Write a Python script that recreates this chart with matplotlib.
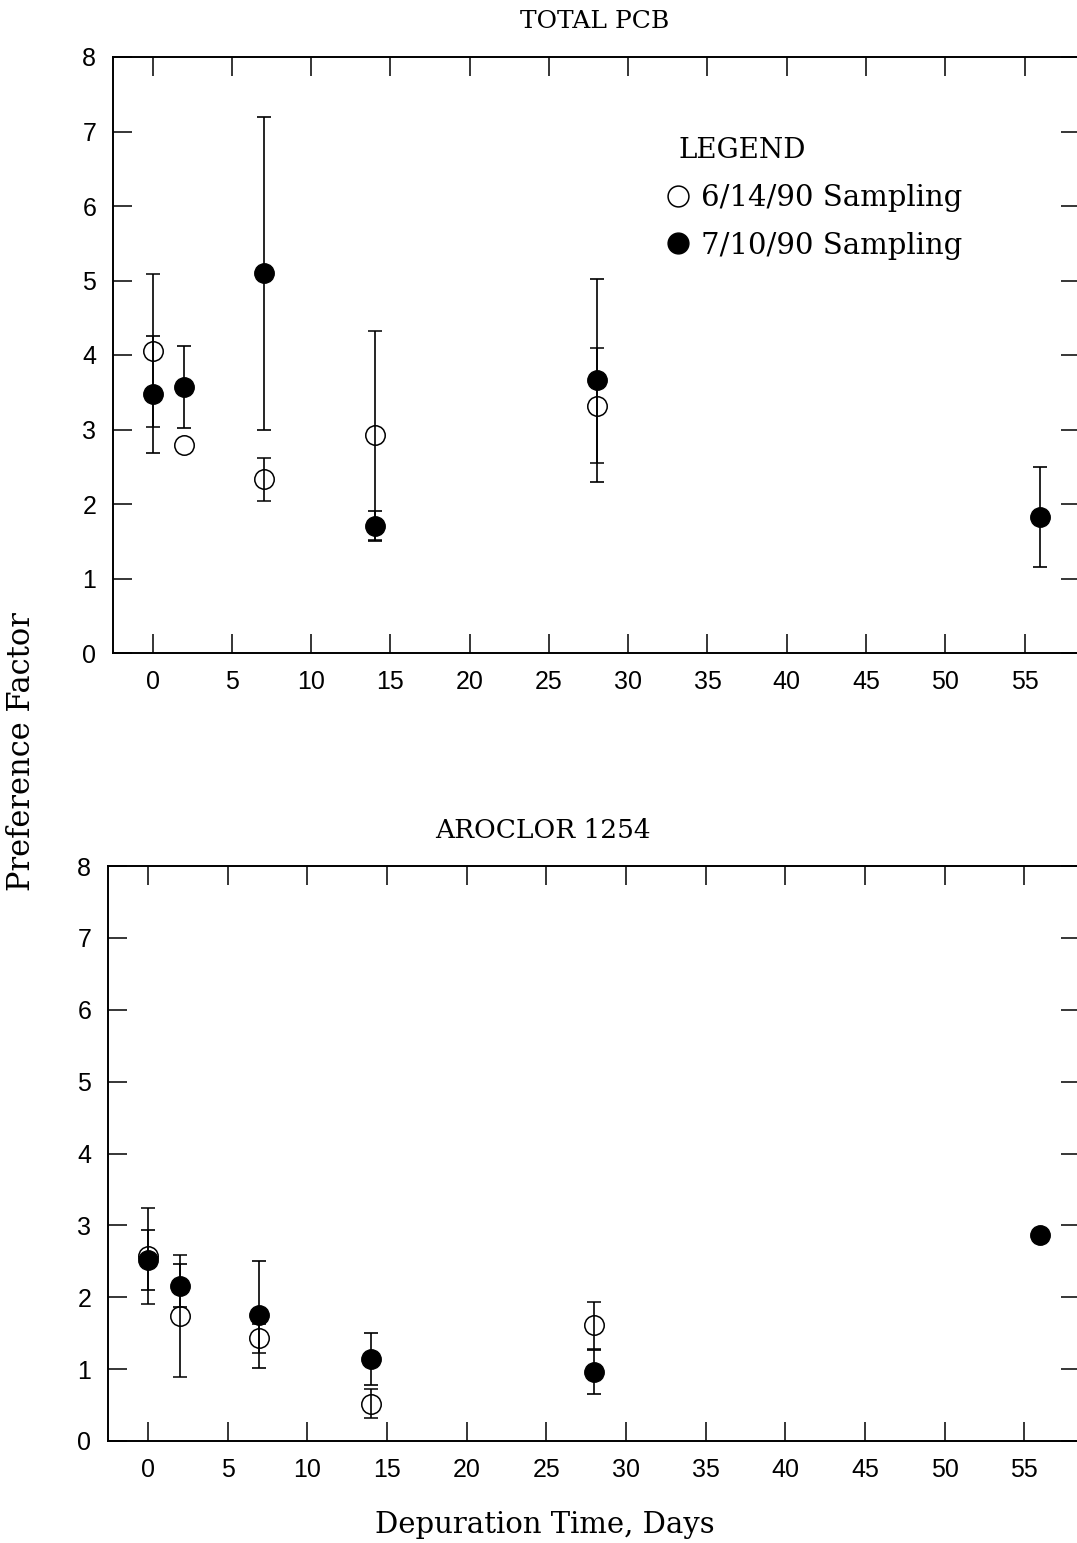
import numpy as np
import matplotlib
matplotlib.use("Agg")
import matplotlib.pyplot as plt
from matplotlib.lines import Line2D

# depuration days
days = [0, 2, 7, 14, 28, 56]

# TOTAL PCB
pcb_open = [4.06, 2.79, 2.33, 2.92, 3.32]
pcb_open_err = [1.03, np.nan, 0.29, 1.40, 0.77]
pcb_fill = [3.47, 3.57, 5.10, 1.70, 3.66, 1.83]
pcb_fill_err = [0.78, 0.55, 2.10, 0.20, 1.36, 0.67]

# AROCLOR 1254
aro_open = [2.57, 1.74, 1.43, 0.52, 1.61]
aro_open_err = [0.67, 0.85, 0.20, 0.20, 0.33]
aro_fill = [2.52, 2.16, 1.76, 1.14, 0.96, 2.87]
aro_fill_err = [0.42, 0.30, 0.74, 0.36, 0.31, np.nan]

xticks = np.arange(0, 60, 5)
yticks = np.arange(0, 9, 1)

serif = "DejaVu Serif"
sans = "Liberation Sans"

fig = plt.figure(figsize=(10.77, 15.43), dpi=100)
ax1 = fig.add_axes([113/1077, 1-653/1543, 967/1077, 596/1543])
ax2 = fig.add_axes([108/1077, 1-1441/1543, 972/1077, 575/1543])


def panel(ax, o, oe, f, fe):
    n = len(o)
    ax.errorbar(days[:n], o, yerr=oe, fmt="o", ms=14, mfc="none", mec="black",
                mew=1.1, ecolor="black", elinewidth=1.2, capsize=5, capthick=1.2,
                color="black", label="6/14/90 Sampling")
    ax.errorbar(days, f, yerr=fe, fmt="o", ms=14, mfc="black", mec="black",
                ecolor="black", elinewidth=1.2, capsize=5, capthick=1.2,
                color="black", label="7/10/90 Sampling")
    ax.set_xlim(-2.5, 58.5)
    ax.set_ylim(0, 8)
    ax.set_xticks(xticks)
    ax.set_yticks(yticks)
    ax.tick_params(direction="in", length=14, width=1.1, top=True, right=True,
                   labelsize=18, pad=12)
    for lab in ax.get_xticklabels() + ax.get_yticklabels():
        lab.set_family(sans)
    for s in ax.spines.values():
        s.set_linewidth(1.4)


panel(ax1, pcb_open, pcb_open_err, pcb_fill, pcb_fill_err)
panel(ax2, aro_open, aro_open_err, aro_fill, aro_fill_err)

handles = [Line2D([], [], ls="none", marker="o", ms=15, mfc="none", mec="black", mew=1.1),
           Line2D([], [], ls="none", marker="o", ms=15, mfc="black", mec="black")]
leg = ax1.legend(handles, ["6/14/90 Sampling", "7/10/90 Sampling"], title="LEGEND",
                 loc="upper left", bbox_to_anchor=((678-113)/967, (653-137)/596),
                 frameon=False, borderpad=0, borderaxespad=0,
                 alignment="left", handlelength=0, handletextpad=0.8, labelspacing=0.68,
                 prop={"family": serif, "size": 21},
                 title_fontproperties={"family": serif, "size": 20})

fig.text(595/1077, 1-22/1543, "TOTAL PCB", family=serif, fontsize=18,
         ha="center", va="center")
fig.text(543/1077, 1-830/1543, "AROCLOR 1254", family=serif, fontsize=19,
         ha="center", va="center")
fig.text(22/1077, 1-752/1543, "Preference Factor", family=serif, fontsize=22,
         rotation=90, ha="center", va="center")
fig.text(545/1077, 1-1525/1543, "Depuration Time, Days", family=serif, fontsize=21,
         ha="center", va="center")

fig.savefig("out.png", dpi=100)
